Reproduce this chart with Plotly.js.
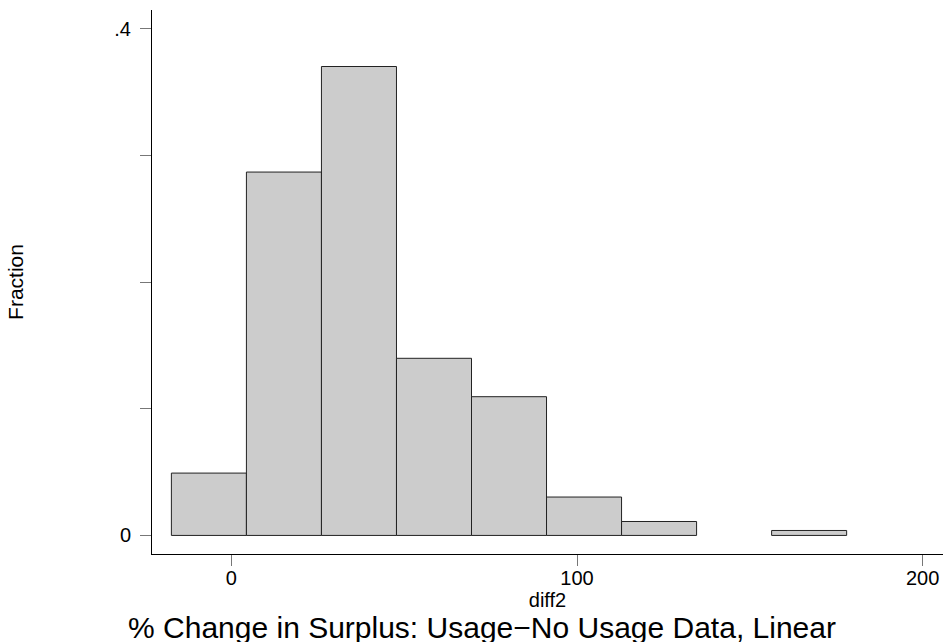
<!DOCTYPE html>
<html>
<head>
<meta charset="utf-8">
<script src="https://cdn.plot.ly/plotly-3.0.1.min.js"></script>
<style>html,body{margin:0;padding:0;background:#fff;}#chart{width:943px;height:642px;}</style>
</head>
<body>
<div id="chart"></div>
<script>
// Histogram bins (diff2) and fractions
var binEdges = [-17.37, 4.34, 26.05, 47.76, 69.47, 91.18, 112.89, 134.60, 156.31, 178.02];
var fractions = [0.0492, 0.2868, 0.3701, 0.1398, 0.1095, 0.0303, 0.0110, 0.0, 0.0039];
var xTickVals = [0, 100, 200];
var xTickText = ["0", "100", "200"];
var yTickVals = [0, 0.1, 0.2, 0.3, 0.4];
var yTickText = ["0", "", "", "", ".4"];

var centers = [], widths = [], outline = [];
for (var i = 0; i < fractions.length; i++) {
  centers.push((binEdges[i] + binEdges[i + 1]) / 2);
  widths.push(binEdges[i + 1] - binEdges[i]);
  outline.push(fractions[i] > 0 ? 1 : 0); // empty bins draw nothing
}

var FONT = "Liberation Sans, Arial, Helvetica, sans-serif";

var trace = {
  type: "bar",
  x: centers,
  y: fractions,
  width: widths,
  marker: { color: "#cccccc", line: { color: "#222222", width: outline } },
  hoverinfo: "x+y",
  showlegend: false
};

var layout = {
  width: 943,
  height: 642,
  margin: { l: 152, r: 0, t: 10, b: 88, pad: 0 },
  paper_bgcolor: "#ffffff",
  plot_bgcolor: "#ffffff",
  font: { family: FONT, color: "#000000", size: 20 },
  bargap: 0,
  title: {
    text: "% Change in Surplus: Usage\u2212No Usage Data, Linear",
    font: { family: FONT, size: 30, color: "#000000" },
    x: 482 / 943, xref: "container", xanchor: "center",
    y: (642 - 627) / 642, yref: "container", yanchor: "middle"
  },
  xaxis: {
    range: [-22.98, 205.9],
    showgrid: false, zeroline: false,
    showline: true, linecolor: "#000000", linewidth: 1,
    ticks: "outside", ticklen: 11, tickwidth: 1, tickcolor: "#777777",
    tickvals: xTickVals, ticktext: xTickText,
    tickfont: { family: FONT, size: 20, color: "#000000" },
    ticklabelstandoff: -5,
    title: { text: "diff2", font: { family: FONT, size: 20, color: "#000000" }, standoff: 0 }
  },
  yaxis: {
    range: [-0.01466, 0.4147],
    showgrid: false, zeroline: false,
    showline: true, linecolor: "#000000", linewidth: 1,
    ticks: "outside", ticklen: 11, tickwidth: 1, tickcolor: "#777777",
    tickvals: yTickVals, ticktext: yTickText,
    tickfont: { family: FONT, size: 20, color: "#000000" },
    ticklabelstandoff: 5,
    title: { text: "Fraction", font: { family: FONT, size: 21, color: "#000000" }, standoff: 84 }
  }
};

Plotly.newPlot("chart", [trace], layout, { displayModeBar: false, staticPlot: true });
</script>
</body>
</html>
